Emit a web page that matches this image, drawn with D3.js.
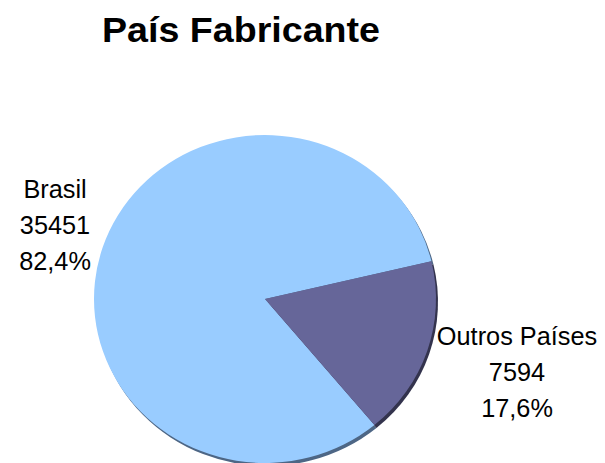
<!DOCTYPE html>
<html>
<head>
<meta charset="utf-8">
<script src="https://cdn.jsdelivr.net/npm/d3@7"></script>
<style>
  body { margin: 0; background: #fff; }
  text { font-family: "Liberation Sans", Arial, sans-serif; fill: #000; }
</style>
</head>
<body>
<div id="chart"></div>
<script>
"use strict";

var categories = ["Brasil", "Outros Países"];
var values = [35451, 7594];
var percents = ["82,4%", "17,6%"];
var colors = ["#99CCFF", "#666699"];
var shadowColors = ["#4d6685", "#33334d"];

var width = 605;
var height = 463;

var cx = 265, cy = 299;
var rx = 171, ry = 164;

var svg = d3.select("#chart").append("svg")
	.attr("width", width)
	.attr("height", height);

svg.append("text")
	.attr("x", 241)
	.attr("y", 42)
	.attr("text-anchor", "middle")
	.attr("font-size", "35px")
	.attr("font-weight", "bold")
	.attr("textLength", 278)
	.attr("lengthAdjust", "spacingAndGlyphs")
	.text("País Fabricante");

var data = categories.map(function(c, i) { return {name: c, value: values[i], pct: percents[i]}; });

// first slice starts at ~140 degrees (clockwise from top)
var start = 140.2 * Math.PI / 180;
var pie = d3.pie()
	.sort(null)
	.value(function(d) { return d.value; })
	.startAngle(start)
	.endAngle(start + 2 * Math.PI);

var arcs = pie(data);
var arc = d3.arc().innerRadius(0).outerRadius(rx);

// shadow
svg.append("g")
	.attr("transform", "translate(" + (cx + 2) + "," + (cy + 3) + ") scale(1," + (ry / rx) + ")")
	.selectAll("path")
	.data(arcs)
	.enter()
	.append("path")
	.attr("d", arc)
	.attr("fill", function(d, i) { return shadowColors[i]; });

svg.append("g")
	.attr("transform", "translate(" + cx + "," + cy + ") scale(1," + (ry / rx) + ")")
	.selectAll("path")
	.data(arcs)
	.enter()
	.append("path")
	.attr("d", arc)
	.attr("fill", function(d, i) { return colors[i]; });

var labelPos = [[55, 198], [517, 345]];

var labels = svg.selectAll("g.label")
	.data(data)
	.enter()
	.append("g")
	.attr("class", "label")
	.attr("transform", function(d, i) { return "translate(" + labelPos[i][0] + "," + labelPos[i][1] + ")"; });

labels.selectAll("text")
	.data(function(d) { return [d.name, d.value, d.pct]; })
	.enter()
	.append("text")
	.attr("x", 0)
	.attr("y", function(d, i) { return i * 36; })
	.attr("text-anchor", "middle")
	.attr("font-size", "25.3px")
	.text(function(d) { return d; });
</script>
</body>
</html>
